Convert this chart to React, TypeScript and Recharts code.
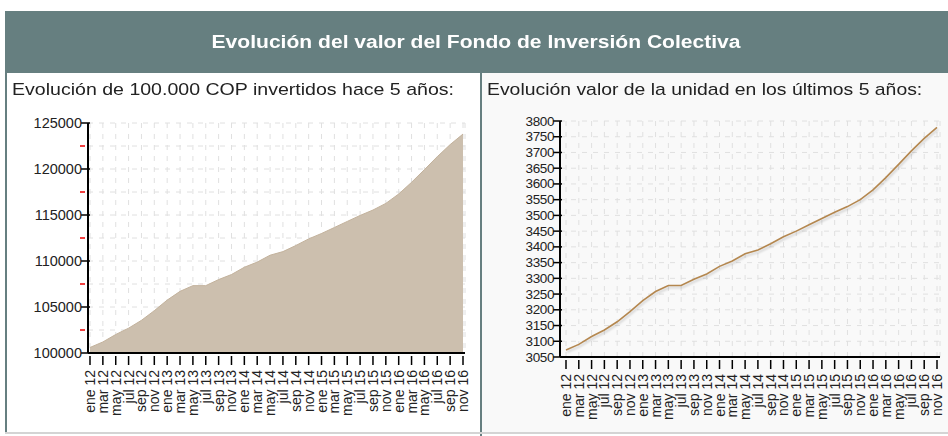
import React from "react";
import {
  AreaChart,
  Area,
  LineChart,
  Line,
  XAxis,
  YAxis,
  CartesianGrid,
} from "recharts";

// meses (cada dos meses, ene 12 - nov 16)
const months = [
  "ene 12", "mar 12", "may 12", "jul 12", "sep 12", "nov 12",
  "ene 13", "mar 13", "may 13", "jul 13", "sep 13", "nov 13",
  "ene 14", "mar 14", "may 14", "jul 14", "sep 14", "nov 14",
  "ene 15", "mar 15", "may 15", "jul 15", "sep 15", "nov 15",
  "ene 16", "mar 16", "may 16", "jul 16", "sep 16", "nov 16",
];

// valor de 100.000 COP invertidos
const inversion = [
  100600, 101200, 102010, 102700, 103550, 104600,
  105750, 106700, 107320, 107320, 107980, 108530,
  109320, 109880, 110630, 111020, 111680, 112400,
  112990, 113640, 114300, 114950, 115540, 116260,
  117280, 118550, 119930, 121340, 122650, 123800,
];

// valor de la unidad
const unidad = [
  3072, 3090, 3115, 3136, 3162, 3194,
  3229, 3258, 3277, 3277, 3297, 3314,
  3338, 3355, 3378, 3390, 3410, 3432,
  3450, 3470, 3490, 3510, 3528, 3550,
  3581, 3620, 3662, 3705, 3745, 3780,
];

const leftTicks = [
  100000, 102500, 105000, 107500, 110000, 112500,
  115000, 117500, 120000, 122500, 125000,
];
const rightTicks = [
  3050, 3100, 3150, 3200, 3250, 3300, 3350, 3400,
  3450, 3500, 3550, 3600, 3650, 3700, 3750, 3800,
];

const leftData = months.map((m, i) => ({ mes: m, valor: inversion[i] }));
const rightData = months.map((m, i) => ({ mes: m, valor: unidad[i] }));

const FONT = "'Liberation Sans', Arial, sans-serif";

const MonthTick = ({ x, y, payload }: any) => (
  <g>
    <line x1={x} y1={y - 5} x2={x} y2={y + 4} stroke="#000" strokeWidth={1.5} />
    <text
      x={x}
      y={y + 9}
      transform={`rotate(-90, ${x}, ${y + 9})`}
      textAnchor="end"
      dominantBaseline="central"
      fontSize={14}
      fontFamily={FONT}
      fill="#222"
    >
      {payload.value}
    </text>
  </g>
);

const LeftYTick = ({ x, y, payload }: any) => {
  const major = payload.value % 5000 === 0;
  const ax = x + 6;
  if (!major) {
    return <line x1={ax - 6} y1={y} x2={ax - 1} y2={y} stroke="#e00" strokeWidth={1.5} />;
  }
  return (
    <g>
      <line x1={ax - 5} y1={y} x2={ax + 4} y2={y} stroke="#000" strokeWidth={1.5} />
      <text
        x={ax - 4}
        y={y}
        textAnchor="end"
        dominantBaseline="central"
        fontSize={14.5}
        fontFamily={FONT}
        fill="#222"
      >
        {payload.value}
      </text>
    </g>
  );
};

const RightYTick = ({ x, y, payload }: any) => {
  const ax = x + 6;
  return (
    <g>
      <line x1={ax - 5} y1={y} x2={ax + 4} y2={y} stroke="#000" strokeWidth={1.5} />
      <text
        x={ax - 4}
        y={y}
        textAnchor="end"
        dominantBaseline="central"
        fontSize={13.5}
        letterSpacing={-0.4}
        fontFamily={FONT}
        fill="#222"
      >
        {payload.value}
      </text>
    </g>
  );
};

export default function App() {
  return (
    <div
      style={{
        position: "absolute",
        left: 0,
        top: 0,
        width: 948,
        height: 436,
        background: "#fff",
        fontFamily: FONT,
      }}
    >
      <style>{`.rline .recharts-line-curve { filter: drop-shadow(1px 2px 1px rgba(0,0,0,0.18)); }`}</style>
      {/* cabecera */}
      <div
        style={{
          position: "absolute",
          left: 5,
          top: 11,
          width: 943,
          height: 62,
          background: "#667f80",
          color: "#fff",
          fontWeight: "bold",
          fontSize: 18,
          display: "flex",
          alignItems: "center",
          justifyContent: "center",
        }}
      >
        <span style={{ display: "inline-block", transform: "scaleX(1.17)" }}>
          Evolución del valor del Fondo de Inversión Colectiva
        </span>
      </div>
      {/* bordes */}
      <div style={{ position: "absolute", left: 5, top: 73, width: 2, height: 361, background: "#667f80" }} />
      <div style={{ position: "absolute", left: 482, top: 73, width: 466, height: 359, background: "#f9f9f9" }} />
      <div style={{ position: "absolute", left: 480, top: 73, width: 2, height: 363, background: "#667f80" }} />
      <div style={{ position: "absolute", left: 5, top: 432, width: 943, height: 2, background: "#d4d4d4" }} />

      <div
        style={{
          position: "absolute",
          left: 12,
          top: 80,
          fontSize: 17,
          color: "#222",
          whiteSpace: "nowrap",
          transform: "scaleX(1.15)",
          transformOrigin: "left center",
        }}
      >
        Evolución de 100.000 COP invertidos hace 5 años:
      </div>
      <div
        style={{
          position: "absolute",
          left: 487,
          top: 80,
          fontSize: 17,
          color: "#222",
          whiteSpace: "nowrap",
          transform: "scaleX(1.14)",
          transformOrigin: "left center",
        }}
      >
        Evolución valor de la unidad en los últimos 5 años:
      </div>

      <div style={{ position: "absolute", left: 6, top: 100 }}>
        <AreaChart
          width={474}
          height={332}
          data={leftData}
          margin={{ top: 23, right: 15, left: 0, bottom: 0 }}
        >
          <CartesianGrid stroke="#e0e0e0" strokeDasharray="5 6" />
          <XAxis
            dataKey="mes"
            interval={0}
            height={79}
            padding={{ left: 2, right: 2 }}
            tick={<MonthTick />}
            tickLine={false}
            axisLine={{ stroke: "#000", strokeWidth: 2 }}
          />
          <YAxis
            width={82}
            domain={[100000, 125000]}
            ticks={leftTicks}
            interval={0}
            tick={<LeftYTick />}
            tickLine={false}
            axisLine={{ stroke: "#000", strokeWidth: 2 }}
          />
          <Area
            type="linear"
            dataKey="valor"
            stroke="#c3b29c"
            strokeWidth={1}
            fill="#ccbfae"
            fillOpacity={1}
            isAnimationActive={false}
          />
        </AreaChart>
      </div>

      <div className="rline" style={{ position: "absolute", left: 482, top: 100 }}>
        <LineChart
          width={466}
          height={332}
          data={rightData}
          margin={{ top: 21, right: 8, left: 0, bottom: 0 }}
        >
          <CartesianGrid stroke="#e0e0e0" strokeDasharray="5 6" />
          <XAxis
            dataKey="mes"
            interval={0}
            height={75}
            padding={{ left: 6, right: 3 }}
            tick={<MonthTick />}
            tickLine={false}
            axisLine={{ stroke: "#000", strokeWidth: 2 }}
          />
          <YAxis
            width={78}
            domain={[3050, 3800]}
            ticks={rightTicks}
            interval={0}
            tick={<RightYTick />}
            tickLine={false}
            axisLine={{ stroke: "#000", strokeWidth: 2 }}
          />
          <Line
            type="linear"
            dataKey="valor"
            stroke="#b4874f"
            strokeWidth={1.6}
            dot={false}
            isAnimationActive={false}
          />
        </LineChart>
      </div>
    </div>
  );
}
